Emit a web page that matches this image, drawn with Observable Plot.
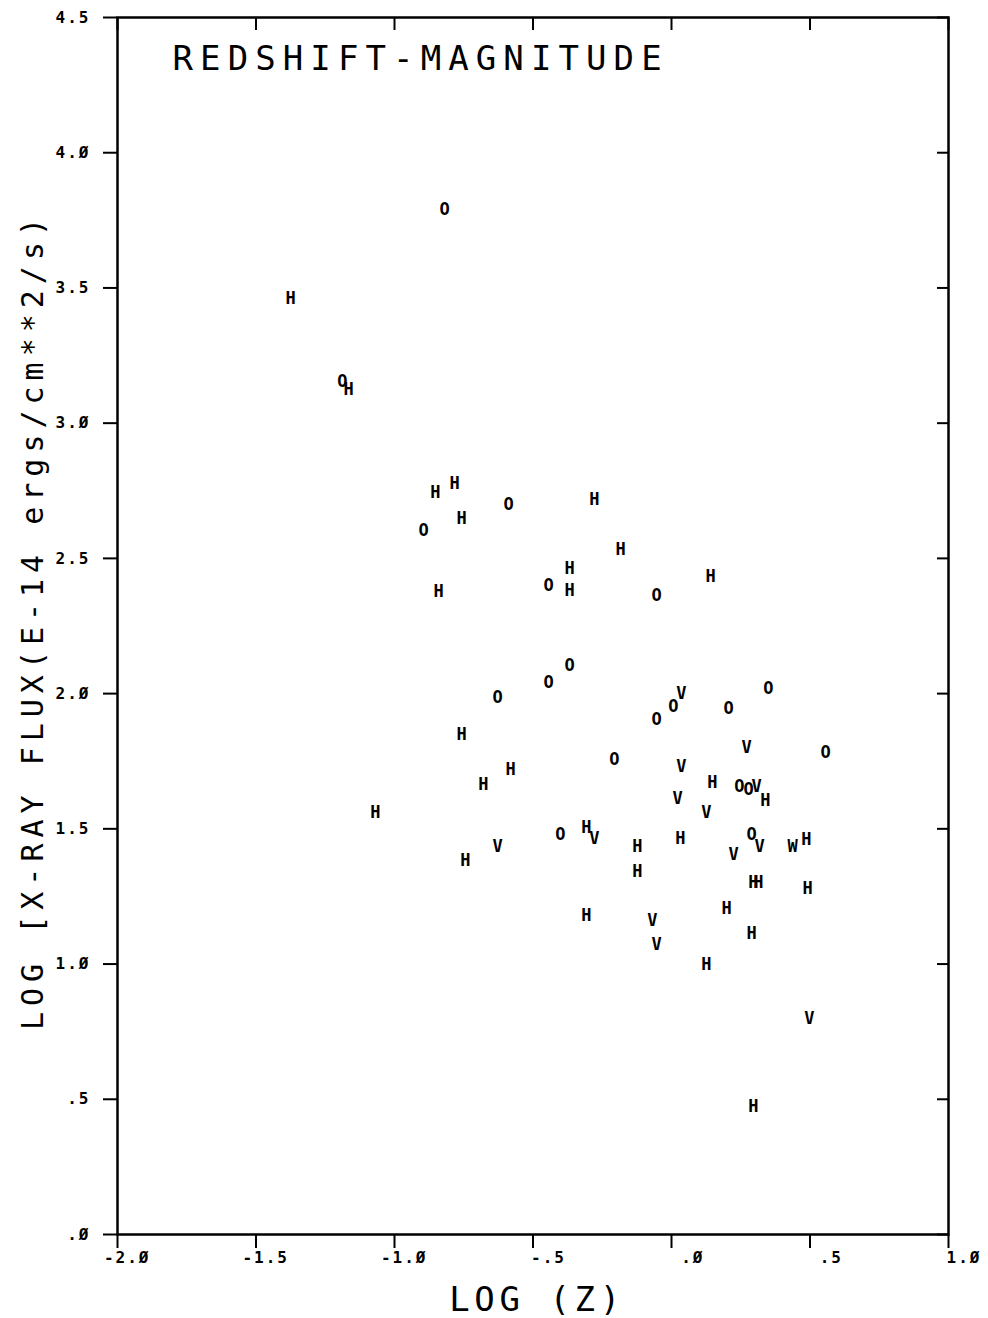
<!DOCTYPE html>
<html>
<head>
<meta charset="utf-8">
<script src="https://cdn.jsdelivr.net/npm/d3@7"></script>
<script src="https://cdn.jsdelivr.net/npm/@observablehq/plot@0.6"></script>
<style>
  body { margin: 0; background: #fff; }
</style>
</head>
<body>
<div id="chart"></div>
<script>
// Axis ticks and labels (plotter-style slashed zero)
const xTicks = [-2, -1.5, -1, -0.5, 0, 0.5, 1];
const xTickLabels = ["-2.Ø", "-1.5", "-1.Ø", "-.5", ".Ø", ".5", "1.Ø"];
const yTicks = [0, 0.5, 1, 1.5, 2, 2.5, 3, 3.5, 4, 4.5];
const yTickLabels = [".Ø", ".5", "1.Ø", "1.5", "2.Ø", "2.5", "3.Ø", "3.5", "4.Ø", "4.5"];

const titleText = "REDSHIFT-MAGNITUDE";
const xLabel = "LOG (Z)";
const yLabel = "LOG [X-RAY FLUX(E-14 ergs/cm**2/s)";

// Plotted symbols, log(z) and log(flux)
const symbols = [
  "H","O","O","H","H","H","O","H","O","H",
  "H","H","O","H","H","O","H","O","O","O",
  "O","V","O","O","O","H","V","O","O","V",
  "H","H","H","O","O","V","H","V","V","H",
  "H","V","O","O","V","H","V","H","V","W",
  "H","H","H","H","H","H","H","V","V","H",
  "H","V","H","H"
];
const logZ = [
  -1.375,-0.819,-1.188,-1.166,-0.852,-0.783,-0.895,-0.758,-0.588,-0.278,
  -0.184,-0.368,-0.444,-0.368,-0.841,-0.054,0.141,-0.368,-0.444,-0.628,
  0.350,0.036,0.007,-0.054,0.206,-0.758,0.271,0.556,-0.206,0.036,
  -0.581,-0.679,0.148,0.245,0.278,0.307,0.339,0.022,0.126,-1.069,
  -0.307,-0.278,-0.401,0.289,0.318,0.032,-0.628,-0.123,0.224,0.437,
  0.487,-0.744,-0.123,0.296,0.314,0.491,0.199,-0.069,-0.054,-0.307,
  0.289,0.498,0.126,0.296
];
const logFlux = [
  3.46,3.79,3.155,3.125,2.744,2.777,2.604,2.648,2.70,2.718,
  2.533,2.463,2.40,2.382,2.378,2.363,2.433,2.104,2.041,1.986,
  2.019,2.00,1.953,1.905,1.945,1.849,1.801,1.783,1.757,1.731,
  1.72,1.664,1.672,1.657,1.646,1.657,1.605,1.612,1.561,1.561,
  1.505,1.465,1.479,1.479,1.435,1.465,1.435,1.435,1.405,1.435,
  1.461,1.383,1.342,1.302,1.302,1.28,1.206,1.161,1.072,1.18,
  1.113,0.799,0.999,0.473
];

const points = symbols.map((s, i) => ({s, x: logZ[i], y: logFlux[i]}));

const mono = "DejaVu Sans Mono";

const chart = Plot.plot({
  width: 988,
  height: 1318,
  marginLeft: 117,
  marginRight: 40,
  marginTop: 17,
  marginBottom: 84,
  x: {domain: [-2, 1]},
  y: {domain: [0, 4.5]},
  style: {background: "#fff", color: "#000", overflow: "visible"},
  marks: [
    Plot.frame({stroke: "#000", strokeWidth: 2.5}),
    // bottom ticks (outside)
    Plot.axisX(xTicks, {anchor: "bottom", tickSize: 14, strokeWidth: 2, tickFormat: () => "", label: null}),
    // bottom tick labels, right aligned as on the plotter
    Plot.text(xTicks, {x: d => d, frameAnchor: "bottom", dy: 28, dx: 33, textAnchor: "end",
      text: d => xTickLabels[xTicks.indexOf(d)], fontFamily: mono, fontWeight: "bold", fontSize: 16}),
    // top ticks (inside)
    Plot.axisX(xTicks, {anchor: "top", tickSize: 12, dy: 12, strokeWidth: 2, tickFormat: () => "", label: null}),
    // left ticks + labels
    Plot.axisY(yTicks, {anchor: "left", tickSize: 14, tickPadding: 13, strokeWidth: 2,
      tickFormat: d => yTickLabels[yTicks.indexOf(d)], label: null,
      fontFamily: mono, fontWeight: "bold", fontSize: 16}),
    // right ticks (inside)
    Plot.axisY(yTicks, {anchor: "right", tickSize: 12, dx: -12, strokeWidth: 2, tickFormat: () => "", label: null}),
    // data symbols
    Plot.text(points, {x: "x", y: "y", text: "s", fontFamily: mono, fontWeight: "bold", fontSize: 17}),
    // title inside the frame
    Plot.text([titleText], {frameAnchor: "top-left", dx: 55, dy: 28, textAnchor: "start", lineAnchor: "top",
      fontFamily: mono, fontSize: 34}),
    // axis labels
    Plot.text([xLabel], {frameAnchor: "bottom", dx: 4, dy: 66, textAnchor: "middle", lineAnchor: "middle",
      fontFamily: mono, fontSize: 34}),
    Plot.text([yLabel], {frameAnchor: "left", dx: -84, dy: -5, rotate: -90, textAnchor: "middle", lineAnchor: "middle",
      fontFamily: mono, fontSize: 30})
  ]
});

// Plotter-like letter spacing
const svg = d3.select(chart);
const spacing = new Map([[titleText, 7.1], [xLabel, 4.6], [yLabel, 6]]);
svg.selectAll("text").each(function() {
  const t = this.textContent;
  const sel = d3.select(this);
  if (spacing.has(t)) sel.style("letter-spacing", spacing.get(t) + "px");
  else if (xTickLabels.includes(t) || yTickLabels.includes(t)) sel.style("letter-spacing", "2px").attr("font-size", 16);
});
svg.selectAll('g[aria-label="y-axis tick label"]').attr("font-size", 16);

document.getElementById("chart").appendChild(chart);
</script>
</body>
</html>
